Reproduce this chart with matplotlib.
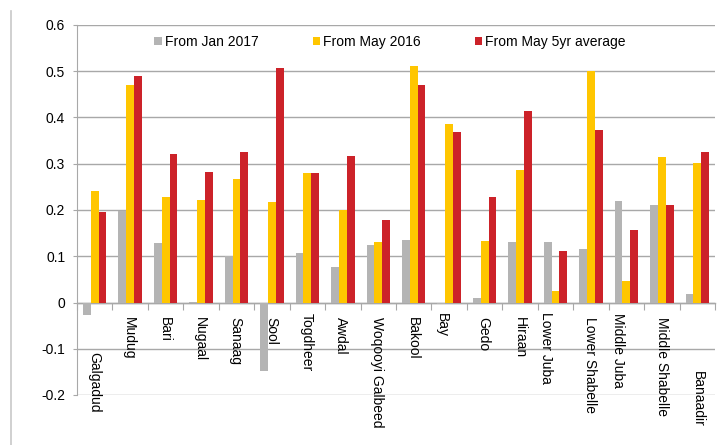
import numpy as np
import matplotlib
matplotlib.use("Agg")
import matplotlib.pyplot as plt
from matplotlib.patches import Patch
from matplotlib.lines import Line2D

plt.rcParams['font.family'] = ['Liberation Sans', 'DejaVu Sans']

regions = ["Galgadud", "Mudug", "Bari", "Nugaal", "Sanaag", "Sool", "Togdheer",
           "Awdal", "Woqooyi Galbeed", "Bakool", "Bay", "Gedo", "Hiraan",
           "Lower Juba", "Lower Shabelle", "Middle Juba", "Middle Shabelle",
           "Banaadir"]
from_jan_2017 = [-0.027, 0.197, 0.129, 0.002, 0.100, -0.148, 0.106, 0.076, 0.124,
                 0.135, -0.003, 0.010, 0.131, 0.131, 0.115, 0.220, 0.210, 0.019]
from_may_2016 = [0.242, 0.471, 0.229, 0.222, 0.267, 0.218, 0.279, 0.199, 0.131,
                 0.511, 0.386, 0.133, 0.287, 0.025, 0.500, 0.046, 0.314, 0.301]
from_may_5yr = [0.195, 0.489, 0.320, 0.283, 0.325, 0.508, 0.279, 0.317, 0.178,
                0.470, 0.369, 0.229, 0.415, 0.111, 0.372, 0.156, 0.211, 0.326]
series_names = ["From Jan 2017", "From May 2016", "From May 5yr average"]
y_ticks = [-0.2, -0.1, 0.0, 0.1, 0.2, 0.3, 0.4, 0.5, 0.6]

colors = ["#B4B4B4", "#FFC600", "#CC2229"]
grid_col = "#A8A8A8"

W, H = 728, 445
fig = plt.figure(figsize=(W / 100, H / 100), dpi=100)
ax = fig.add_axes([77 / W, 1 - 395 / H, (715 - 77) / W, 370 / H])

# frame line on the left edge of the page
fig.add_artist(Line2D([11 / W, 11 / W], [0, 1 - 11 / H], color="#C8C8C8", lw=1.2,
                      transform=fig.transFigure))

x = np.arange(len(regions))
bw = 0.22
for k, (vals, c) in enumerate(zip([from_jan_2017, from_may_2016, from_may_5yr], colors)):
    ax.bar(x + (k - 1) * bw, vals, width=bw, color=c, linewidth=0, zorder=3,
           label=series_names[k])

ax.set_xlim(-0.5, len(regions) - 0.5)
ax.set_ylim(-0.2, 0.6)
ax.set_yticks(y_ticks)
ax.set_yticklabels(["0" if abs(v) < 1e-9 else f"{v:.1f}" for v in y_ticks], fontsize=10)
ax.yaxis.grid(True, color=grid_col, lw=1)
ax.set_axisbelow(True)

for s in ["top", "right"]:
    ax.spines[s].set_visible(False)
ax.spines["left"].set_color(grid_col)
ax.spines["bottom"].set_position(("data", 0))
ax.spines["bottom"].set_color(grid_col)
ax.spines["bottom"].set_linewidth(1)
ax.set_xticks(np.arange(len(regions) + 1) - 0.5)
ax.set_xticklabels([])
ax.tick_params(axis="x", direction="out", length=5, color=grid_col)
ax.tick_params(axis="y", direction="out", length=3, color=grid_col, pad=5.5)

# rotated category labels below the zero line
px_per_cat = (715 - 77) / len(regions)
px_per_unit = 461.0
label_dx = [-0.7, -1.5, -1, -1.5, -1.3, -0.7, -1, -1.5, -1, -1, -7.7, -1, -0.5,
            -9, -1.3, -8.2, 0, 1]
label_top = [351.7, 316.7, 316.7, 316.7, 316.7, 316.7, 312.3, 316.7, 316.7, 316.7,
             312.3, 316.7, 316.7, 311.7, 316.7, 312.3, 316.7, 370.7]
for i, name in enumerate(regions):
    ax.text(i + label_dx[i] / px_per_cat, (302.3 - label_top[i]) / px_per_unit, name,
            rotation=270, ha="center", va="top", fontsize=10, clip_on=False)

handles = [Patch(facecolor=c, edgecolor="none") for c in colors]
ax.legend(handles, series_names, loc="upper left", bbox_to_anchor=((150 - 77) / 638, 0.985),
          ncol=3, frameon=False, fontsize=10, handlelength=0.55, handleheight=0.55,
          handletextpad=0.2, columnspacing=3.9, borderaxespad=0, borderpad=0.3)

fig.savefig("out.png", dpi=100)
